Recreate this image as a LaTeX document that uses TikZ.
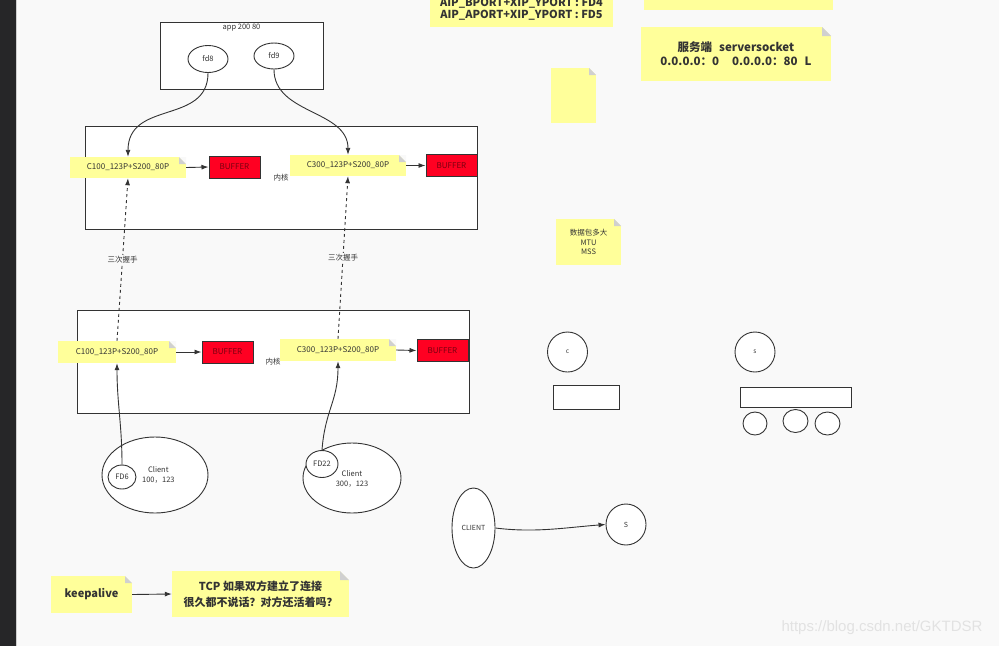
\documentclass[tikz,border=0pt]{standalone}
\usepackage{fontspec}
\setmainfont{Noto Sans CJK SC}
\newfontfamily\wmfont{Liberation Sans}
\usetikzlibrary{arrows.meta,shapes.geometric}
\definecolor{bgc}{HTML}{F9F9F9}
\definecolor{strip}{HTML}{262628}
\definecolor{stripline}{HTML}{CFCFCF}
\definecolor{noteY}{HTML}{FFFF9A}
\definecolor{foldG}{HTML}{D0D0D0}
\definecolor{lineC}{HTML}{333333}
\definecolor{bufR}{HTML}{FF0022}
\definecolor{bufT}{HTML}{7A0010}
\definecolor{wm}{HTML}{E2E2E2}
\begin{document}
\begin{tikzpicture}[x=1pt,y=-1pt,
  every node/.style={text=lineC, inner sep=0pt},
  note/.style={fill=noteY, align=center,
    path picture={
      \fill[bgc] ([xshift=-#1]path picture bounding box.north east) -- (path picture bounding box.north east) -- ([yshift=-#1]path picture bounding box.north east) -- cycle;
      \fill[foldG] ([xshift=-#1]path picture bounding box.north east) -- ([yshift=-#1]path picture bounding box.north east) -- ([xshift=-#1,yshift=-#1]path picture bounding box.north east) -- cycle;}},
  note/.default=7pt,
  plainnote/.style={fill=noteY, align=center},
  box/.style={draw=lineC, line width=1pt, fill=white},
  buf/.style={draw=lineC, line width=1pt, fill=bufR, text=bufT, minimum width=51pt, minimum height=22pt, font=\fontsize{8}{9}\selectfont},
  ell/.style={ellipse, draw=lineC, line width=0.9pt, fill=white, align=center},
  arr/.style={draw=lineC, line width=0.9pt, -{Latex[length=7pt,width=5pt]}},
  fsm/.style={font=\fontsize{7.5}{9.5}\selectfont},
  fmd/.style={font=\fontsize{8}{9.5}\selectfont},
  fbd/.style={font=\fontsize{11.5}{14}\selectfont\bfseries},
]
\useasboundingbox (0,0) rectangle (999,646);
\clip (0,0) rectangle (999,646);
% background and left strip
\fill[bgc] (0,0) rectangle (999,646);
\fill[strip] (0,0) rectangle (16,646);
\fill[stripline] (16,0) rectangle (17.3,646);

% top notes
\node[plainnote, minimum width=183pt, minimum height=36pt, font=\fontsize{11}{12}\selectfont\bfseries] (fdnote) at (521.5,9)
  {AIP\_BPORT+XIP\_YPORT : FD4\\AIP\_APORT+XIP\_YPORT : FD5};
\node[plainnote, minimum width=189pt, minimum height=20pt] (topright) at (738.5,0) {};
\node[note=9pt, fbd, minimum width=190pt, minimum height=54pt] (srv) at (736,54)
  {服务端\hspace{7pt}serversocket\\0.0.0.0：0\hspace{13pt}0.0.0.0：80\hspace{7pt}L};
\node[note, minimum width=45pt, minimum height=55pt] (empty) at (573.5,95.5) {};

% app box
\node[box, minimum width=163pt, minimum height=67pt,
  label={[anchor=north, yshift=-2pt, fsm]north:app 200 80}] (app) at (241.5,55.5) {};
\node[ell, minimum width=40pt, minimum height=27pt, fsm] (fd8) at (208,59) {fd8};
\node[ell, minimum width=40pt, minimum height=26pt, fsm] (fd9) at (274,56) {fd9};

% kernel 1
\node[box, minimum width=392pt, minimum height=103pt, fsm] (k1) at (281,177.5) {内核};
\node[note, fmd, minimum width=116pt, minimum height=21pt] (n1) at (128,167.5) {C100\_123P+S200\_80P};
\node[buf] (b1) at (234.5,167) {BUFFER};
\node[note, fmd, minimum width=116pt, minimum height=21pt] (n2) at (348,165.5) {C300\_123P+S200\_80P};
\node[buf] (b2) at (451.5,165.5) {BUFFER};

% kernel 2
\node[box, minimum width=392pt, minimum height=103pt, fsm] (k2) at (273,361.5) {内核};
\node[note, fmd, minimum width=118pt, minimum height=22pt] (n3) at (117,352) {C100\_123P+S200\_80P};
\node[buf] (b3) at (227.5,352) {BUFFER};
\node[note, fmd, minimum width=116pt, minimum height=22pt] (n4) at (338,350) {C300\_123P+S200\_80P};
\node[buf] (b4) at (442.5,350.5) {BUFFER};

% clients
\node[ell, minimum width=106pt, minimum height=76pt, fsm] (c1) at (155,475) {~~~~Client\\~~~~100，123};
\node[ell, minimum width=28pt, minimum height=24pt, fsm] (fd6) at (122,477) {FD6};
\node[ell, minimum width=98pt, minimum height=70pt, fsm] (c2) at (352,478) {\\[-2pt]Client\\300，123};
\node[ell, minimum width=32pt, minimum height=27pt, fsm] (fd22) at (322,464) {FD22};

% connectors upper
\draw[arr] (fd8.south) .. controls +(0,52) and +(0,-57) .. (n1.north);
\draw[arr] (fd9.south) .. controls +(0,45) and +(0,-45) .. (n2.north);
\draw[arr] (n1.east) -- (b1.west);
\draw[arr] (n2.east) -- (b2.west);
\draw[arr] (n3.east) -- (b3.west);
\draw[arr] (n4.east) -- (b4.west);
\draw[arr, dashed] (n3.north) -- node[fill=bgc, inner sep=1pt, fsm] {三次握手} (n1.south);
\draw[arr, dashed] (n4.north) -- node[fill=bgc, inner sep=1pt, fsm] {三次握手} (n2.south);
\draw[arr] (fd6.north) .. controls +(0,-40) and +(0,40) .. (n3.south);
\draw[arr] (fd22.north) .. controls +(3,-40) and +(0,40) .. (n4.south);

% right middle
\node[note, fsm, minimum width=65pt, minimum height=46pt] (mtu) at (588.5,242) {数据包多大\\MTU\\MSS};
\node[circle, draw=lineC, line width=0.9pt, fill=white, minimum size=40pt, font=\fontsize{6.5}{7}\selectfont] (cc) at (567.5,352) {c};
\node[box, minimum width=66pt, minimum height=24pt] (cr) at (586,397) {};
\node[circle, draw=lineC, line width=0.9pt, fill=white, minimum size=40pt, font=\fontsize{6.5}{7}\selectfont] (sc) at (755,352) {s};
\node[box, minimum width=111pt, minimum height=20pt] (sr) at (795.5,397) {};
\node[ell, minimum width=24pt, minimum height=23pt] (s1) at (755,423.5) {};
\node[ell, minimum width=25pt, minimum height=23pt] (s2) at (795.5,421) {};
\node[ell, minimum width=25pt, minimum height=23pt] (s3) at (827.5,423.5) {};

% bottom
\node[ell, minimum width=43pt, minimum height=80pt, font=\fontsize{7}{8}\selectfont] (cl) at (473.5,528) {CLIENT};
\node[ell, minimum width=40pt, minimum height=41pt, font=\fontsize{7}{8}\selectfont] (sv) at (626,524.5) {S};
\draw[arr] (cl.east) .. controls +(40,5) and +(-40,3) .. (sv.west);

\node[note, font=\fontsize{11}{13}\selectfont\bfseries, minimum width=81pt, minimum height=37pt] (ka) at (91.5,594.5) {keepalive};
\node[note=9pt, font=\fontsize{11}{16}\selectfont\bfseries, minimum width=177pt, minimum height=46pt] (tcp) at (260.5,594)
  {TCP 如果双方建立了连接\\很久都不说话？对方还活着吗？};
\draw[arr] (ka.east) -- (tcp.west);

% watermark
\node[text=wm, font=\wmfont\fontsize{15}{16}\selectfont] (wmk) at (882,628) {https://blog.csdn.net/GKTDSR};
\end{tikzpicture}
\end{document}
